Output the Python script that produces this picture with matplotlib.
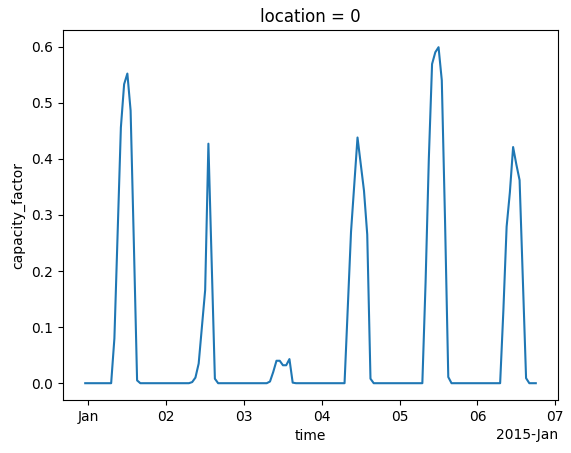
import matplotlib
matplotlib.use("Agg")
import matplotlib.pyplot as plt
import matplotlib.dates as mdates
import numpy as np
import pandas as pd

# hourly capacity factor, starting 2014-12-31 23:00
cf_dec31 = [0.0]
cf_jan01 = [0, 0, 0, 0, 0, 0, 0, 0, 0.08, 0.27, 0.456, 0.533, 0.552, 0.486, 0.25, 0.005,
            0, 0, 0, 0, 0, 0, 0, 0]
cf_jan02 = [0, 0, 0, 0, 0, 0, 0, 0, 0.002, 0.01, 0.035, 0.10, 0.166, 0.427, 0.22, 0.008,
            0, 0, 0, 0, 0, 0, 0, 0]
cf_jan03 = [0, 0, 0, 0, 0, 0, 0, 0, 0.003, 0.02, 0.040, 0.040, 0.032, 0.032, 0.043, 0.001,
            0, 0, 0, 0, 0, 0, 0, 0]
cf_jan04 = [0, 0, 0, 0, 0, 0, 0, 0, 0.135, 0.27, 0.355, 0.438, 0.39, 0.343, 0.265, 0.008,
            0, 0, 0, 0, 0, 0, 0, 0]
cf_jan05 = [0, 0, 0, 0, 0, 0, 0, 0, 0.18, 0.40, 0.569, 0.59, 0.599, 0.54, 0.29, 0.011,
            0, 0, 0, 0, 0, 0, 0, 0]
cf_jan06 = [0, 0, 0, 0, 0, 0, 0, 0, 0.13, 0.279, 0.34, 0.421, 0.39, 0.362, 0.185, 0.009,
            0, 0, 0]

values = np.array(cf_dec31 + cf_jan01 + cf_jan02 + cf_jan03 + cf_jan04 + cf_jan05 + cf_jan06)
times = pd.date_range("2014-12-31 23:00", periods=len(values), freq="h")

fig = plt.figure(figsize=(5.71, 4.53), dpi=100)
ax = fig.add_axes([0.1098, 0.1170, 0.9778 - 0.1098, 0.9329 - 0.1170])
ax.plot(times.to_pydatetime(), values, color="#1f77b4", linewidth=1.5)

locator = mdates.AutoDateLocator()
ax.xaxis.set_major_locator(locator)
ax.xaxis.set_major_formatter(mdates.ConciseDateFormatter(locator))

ax.set_title("location = 0")
ax.set_xlabel("time")
ax.set_ylabel("capacity_factor")

fig.savefig("out.png", dpi=100)
